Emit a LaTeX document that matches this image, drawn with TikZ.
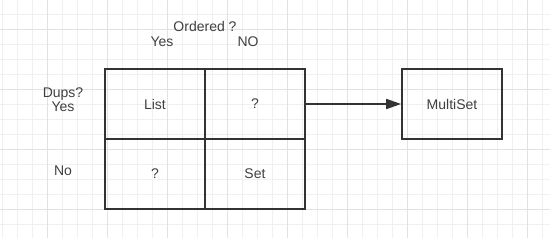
\documentclass[tikz,border=0pt]{standalone}
\usepackage{fontspec}
\setmainfont{Liberation Sans}
\usetikzlibrary{arrows.meta}
\definecolor{minorgrid}{HTML}{F0F0F0}
\definecolor{majorgrid}{HTML}{E2E2E2}
\definecolor{ink}{HTML}{333333}
\definecolor{txt}{HTML}{404040}
\begin{document}
\begin{tikzpicture}[x=1pt,y=-1pt,
  cell/.style={draw=ink,line width=1.7pt,minimum width=100pt,minimum height=70pt,inner sep=0pt,text=txt,font=\fontsize{14}{16}\selectfont},
  lbl/.style={text=txt,font=\fontsize{14}{15}\selectfont,inner sep=0pt,align=center},
  conn/.style={draw=ink,line width=1.7pt,-{Triangle[length=15pt,width=10pt]}}]
\fill[white] (0,0) rectangle (550,238);
\useasboundingbox (0,0) rectangle (550,238);
\foreach \x in {2.5,17.5,...,550} \draw[minorgrid,line width=0.8pt] (\x,0) -- (\x,238);
\foreach \y in {14.5,29.5,...,238} \draw[minorgrid,line width=0.8pt] (0,\y) -- (550,\y);
\foreach \x in {47.5,107.5,...,550} \draw[majorgrid,line width=0.8pt] (\x,0) -- (\x,238);
\foreach \y in {29.5,89.5,...,238} \draw[majorgrid,line width=0.8pt] (0,\y) -- (550,\y);
\node[cell] (list) at (155,104) {List};
\node[cell] (q1) at (255,104) {?};
\node[cell] (q2) at (155,174) {?};
\node[cell] (set) at (255,174) {Set};
\node[cell] (multi) at (452,104) {MultiSet};
\node[lbl] (ordered) at (205,26) {Ordered ?};
\node[lbl] (oyes) at (162,42) {Yes};
\node[lbl] (ono) at (248,42) {NO};
\node[lbl] (dups) at (63,99.5) {Dups?\\[-1pt]Yes};
\node[lbl] (dno) at (63,171) {No};
\draw[conn] (q1.east) -- (multi.west);
\end{tikzpicture}
\end{document}
